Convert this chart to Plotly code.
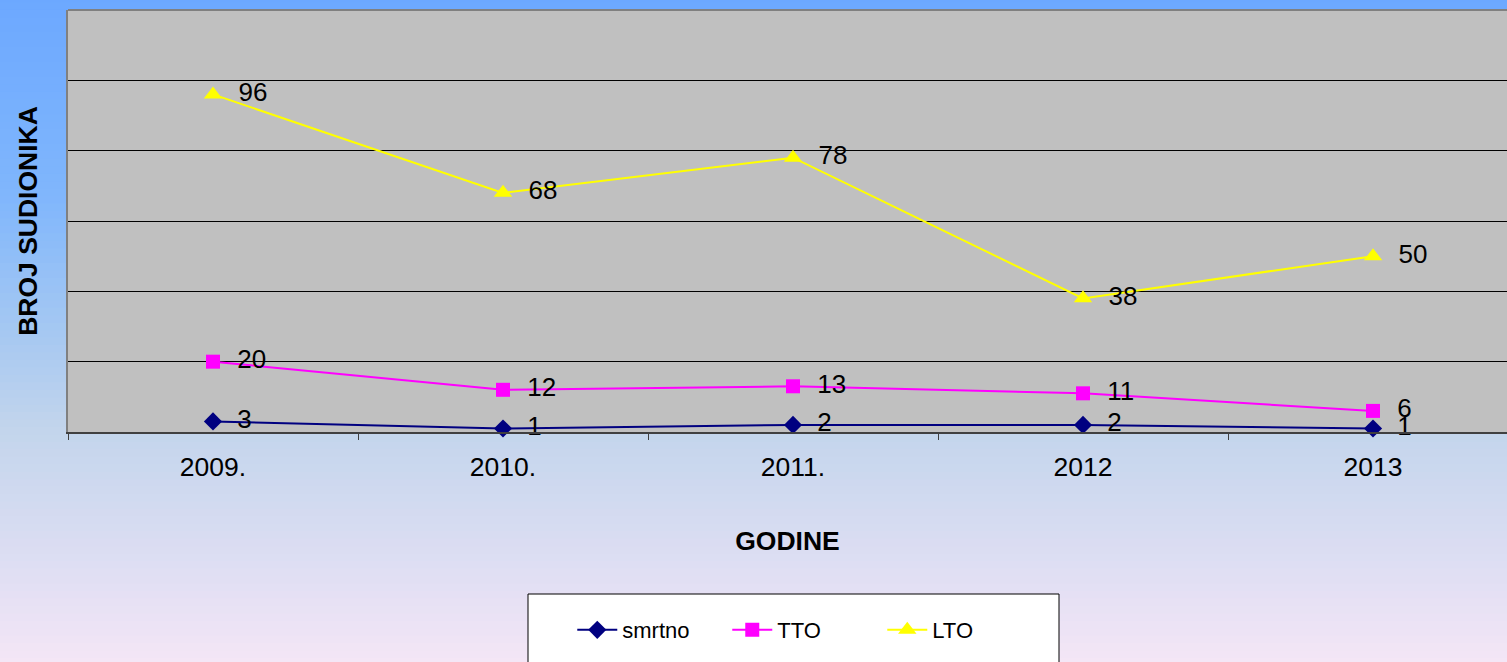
import plotly.graph_objects as go

years = ["2009.", "2010.", "2011.", "2012", "2013"]
smrtno = [3, 1, 2, 2, 1]
tto = [20, 12, 13, 11, 6]
lto = [96, 68, 78, 38, 50]

W, H = 1507, 662
ML, MR, MT, MB = 68, 0, 10, 230
pw, ph = W - ML - MR, H - MT - MB

FONT = "Arial, Liberation Sans, sans-serif"

fig = go.Figure()

series = [
    ("smrtno", smrtno, "#000080", "diamond", 14),
    ("TTO", tto, "#FF00FF", "square", 14),
    ("LTO", lto, "#FFFF00", "triangle-up", 16),
]
for name, vals, col, sym, sz in series:
    fig.add_trace(go.Scatter(
        x=years, y=vals, name=name, mode="lines+markers+text",
        line=dict(color=col, width=2),
        marker=dict(symbol=sym, size=sz, color=col),
        text=["  " + str(v) for v in vals], textposition="middle right",
        textfont=dict(family=FONT, size=26, color="black"),
        cliponaxis=False,
    ))

# gradient background bands (piecewise colour stops, top -> bottom)
stops = [(0.0, (108, 168, 255)), (0.3, (128, 182, 252)), (0.5, (165, 200, 242)),
         (0.65, (195, 213, 236)), (0.85, (222, 222, 243)), (1.0, (245, 230, 246))]


def colat(f):
    for (fa, ca), (fb, cb) in zip(stops[:-1], stops[1:]):
        if fa <= f <= fb:
            t = (f - fa) / (fb - fa)
            return tuple(round(ca[k] + (cb[k] - ca[k]) * t) for k in range(3))
    return stops[-1][1]


shapes = []
n = 90
x0p, x1p = -ML / pw - 0.01, 1 + MR / pw + 0.01
ytop, ybot = 1 + MT / ph + 0.01, -MB / ph - 0.01
for i in range(n):
    f = (i + 0.5) / n
    c = colat(f)
    ya = ytop + (ybot - ytop) * i / n
    yb = ytop + (ybot - ytop) * (i + 1) / n
    shapes.append(dict(type="rect", xref="paper", yref="paper", x0=x0p, x1=x1p,
                       y0=yb - 0.002, y1=ya + 0.002, fillcolor="rgb(%d,%d,%d)" % c,
                       line=dict(width=0), layer="below"))
# plot area
shapes.append(dict(type="rect", xref="paper", yref="paper", x0=0, x1=1, y0=0, y1=1,
                   fillcolor="#C0C0C0", line=dict(width=0), layer="below"))
# top border
shapes.append(dict(type="line", xref="paper", yref="paper", x0=0, x1=1, y0=1, y1=1,
                   line=dict(color="#808080", width=2)))
# legend box
lx0, lx1 = (528 - ML) / pw, (1059 - ML) / pw
ly0, ly1 = (H - MB - 594) / ph, (H - MB - 670) / ph
shapes.append(dict(type="rect", xref="paper", yref="paper", x0=lx0, x1=lx1, y0=ly1, y1=ly0,
                   fillcolor="white", line=dict(color="black", width=1)))

fig.update_layout(
    width=W, height=H,
    margin=dict(l=ML, r=MR, t=MT, b=MB),
    paper_bgcolor="#C8D8EE",
    plot_bgcolor="#C0C0C0",
    font=dict(family=FONT, color="black"),
    shapes=shapes,
    showlegend=True,
    legend=dict(orientation="h", x=0.512, xanchor="center", y=(H - MB - 630) / ph, yanchor="middle",
                bgcolor="rgba(0,0,0,0)", borderwidth=0,
                font=dict(family=FONT, size=22, color="black"),
                itemwidth=40, entrywidth=100, traceorder="normal"),
    xaxis=dict(
        type="category", tickson="boundaries", ticks="outside", ticklen=6,
        tickcolor="#404040", showline=True, linecolor="#404040", linewidth=2,
        showgrid=False, tickfont=dict(family=FONT, size=26.5, color="black"),
        ticklabelstandoff=10,
        title=dict(text="<b>GODINE</b>", font=dict(family=FONT, size=26.5, color="black"), standoff=51),
        range=[-0.5, 4.462],
    ),
    yaxis=dict(
        range=[0, 120], dtick=20, showticklabels=False, ticks="",
        showgrid=True, gridcolor="#000000", gridwidth=1, zeroline=False,
        showline=True, linecolor="#808080", linewidth=2,
        title=dict(text="<b>BROJ SUDIONIKA</b>", font=dict(family=FONT, size=26.5, color="black"), standoff=21),
    ),
)

fig.write_html("out.html", config={"displayModeBar": False},
               post_script="document.body.style.margin='0';document.body.style.overflow='hidden';")
